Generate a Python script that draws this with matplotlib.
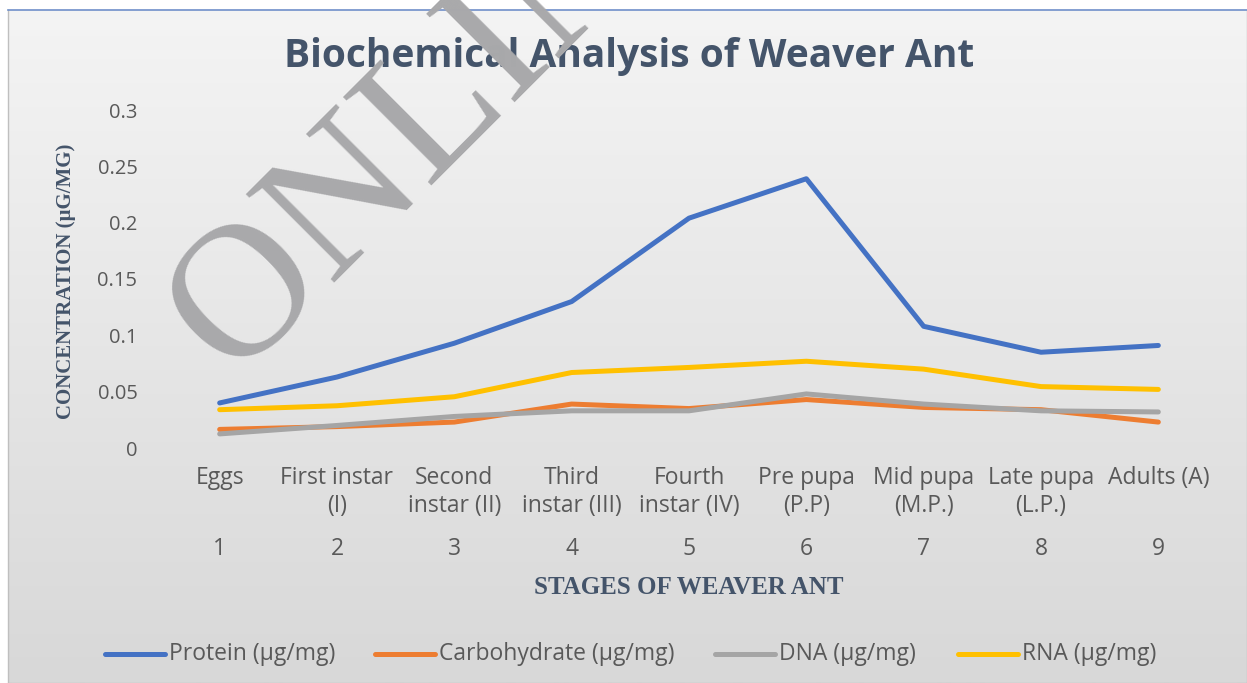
import numpy as np
import matplotlib
matplotlib.use("Agg")
import matplotlib.pyplot as plt
from matplotlib.lines import Line2D
from matplotlib.transforms import blended_transform_factory

# ---------------- data ----------------
stage_numbers = [1, 2, 3, 4, 5, 6, 7, 8, 9]
stage_names = ["Eggs", "First instar\n(I)", "Second\ninstar (II)", "Third\ninstar (III)",
               "Fourth\ninstar (IV)", "Pre pupa\n(P.P)", "Mid pupa\n(M.P.)", "Late pupa\n(L.P.)",
               "Adults (A)"]
protein = [0.040, 0.063, 0.093, 0.130, 0.204, 0.239, 0.108, 0.085, 0.091]
carbohydrate = [0.0165, 0.019, 0.023, 0.039, 0.035, 0.043, 0.036, 0.034, 0.023]
dna = [0.0125, 0.020, 0.028, 0.033, 0.033, 0.048, 0.039, 0.033, 0.032]
rna = [0.034, 0.0375, 0.0455, 0.067, 0.0715, 0.077, 0.070, 0.0545, 0.052]
series_names = ["Protein (µg/mg)", "Carbohydrate (µg/mg)", "DNA (µg/mg)", "RNA (µg/mg)"]
y_ticks = [0, 0.05, 0.1, 0.15, 0.2, 0.25, 0.3]
y_tick_labels = ["0", "0.05", "0.1", "0.15", "0.2", "0.25", "0.3"]

colors = ["#4472C4", "#ED7D31", "#A5A5A5", "#FFC000"]
W, H = 1247, 683
fig = plt.figure(figsize=(W / 100, H / 100), dpi=100)
fig.patch.set_facecolor("white")

# background gradient panel
bg = fig.add_axes([8 / W, 0, 1 - 8 / W, 1 - 10 / H])
grad = np.linspace(0, 1, 256).reshape(-1, 1)
c_top = np.array([0xf4, 0xf4, 0xf4]) / 255
c_bot = np.array([0xd8, 0xd8, 0xd8]) / 255
img = c_top[None, None, :] * (1 - grad[:, :, None]) + c_bot[None, None, :] * grad[:, :, None]
bg.imshow(img, aspect="auto", extent=[0, 1, 0, 1], origin="upper")
bg.set_xlim(0, 1); bg.set_ylim(0, 1)
bg.set_xticks([]); bg.set_yticks([])
for s in ["left", "bottom", "right"]:
    bg.spines[s].set_color("#bfbfbf")
    bg.spines[s].set_linewidth(1)
bg.spines["top"].set_color("#6f8fc9")
bg.spines["top"].set_linewidth(1.2)

# main axes
ax = fig.add_axes([161 / W, 1 - 448 / H, (1217 - 161) / W, (448 - 110) / H])
ax.set_facecolor("none")
series = [protein, carbohydrate, dna, rna]
for vals, c, nm in zip(series, colors, series_names):
    ax.plot(stage_numbers, vals, color=c, lw=3.6, solid_capstyle="round",
            solid_joinstyle="round", label=nm)
ax.set_xlim(0.5, 9.5)
ax.set_ylim(0, 0.3)
for s in ax.spines.values():
    s.set_visible(False)
ax.set_yticks(y_ticks)
ax.set_yticklabels(y_tick_labels)
ax.tick_params(axis="y", length=0, pad=17, labelsize=14.5, labelcolor="#595959")
for lab in ax.get_yticklabels():
    lab.set_fontfamily("Open Sans")
ax.set_xticks([])

lab_font = "Open Sans"
lab_size = 16.5
tr = blended_transform_factory(ax.transData, fig.transFigure)
for x, name in zip(stage_numbers, stage_names):
    for k, line in enumerate(name.split("\n")):
        ax.text(x, 1 - (478 + 28 * k) / H, line, transform=tr, ha="center", va="center",
                fontsize=lab_size, color="#595959", family=lab_font)
    ax.text(x, 1 - 549 / H, str(x), transform=tr, ha="center", va="center",
            fontsize=lab_size, color="#595959", family=lab_font)

# axis titles
fig.text(689 / W, 1 - 587 / H, "STAGES OF WEAVER ANT", ha="center", va="center",
         fontsize=18, fontweight="bold", family="Liberation Serif", color="#44546A")
fig.text(66 / W, 1 - 281 / H, "CONCENTRATION (µG/MG)", ha="center", va="center",
         rotation=90, fontsize=15, fontweight="bold", family="Liberation Serif",
         color="#44546A")

# title
fig.text(629 / W, 1 - 56 / H, "Biochemical Analysis of Weaver Ant", ha="center",
         va="center", fontsize=28, fontweight="bold", family="Open Sans",
         color="#44546A")

# legend
leg_x = [105, 375, 715, 958]
for x0, c, nm in zip(leg_x, colors, series_names):
    fig.add_artist(Line2D([x0 / W, (x0 + 60) / W], [1 - 654 / H] * 2,
                          transform=fig.transFigure, color=c, lw=3.6,
                          solid_capstyle="round"))
    fig.text((x0 + 64) / W, 1 - 654 / H, nm, ha="left", va="center",
             fontsize=lab_size, color="#595959", family=lab_font)

# watermark
fig.text(232 / W, 1 - 378 / H, "ONLINE", ha="left", va="baseline",
         rotation=45, rotation_mode="anchor", fontsize=137,
         family="Liberation Serif", color="#a9a9ab", zorder=10)

fig.savefig("out.png", dpi=100)
